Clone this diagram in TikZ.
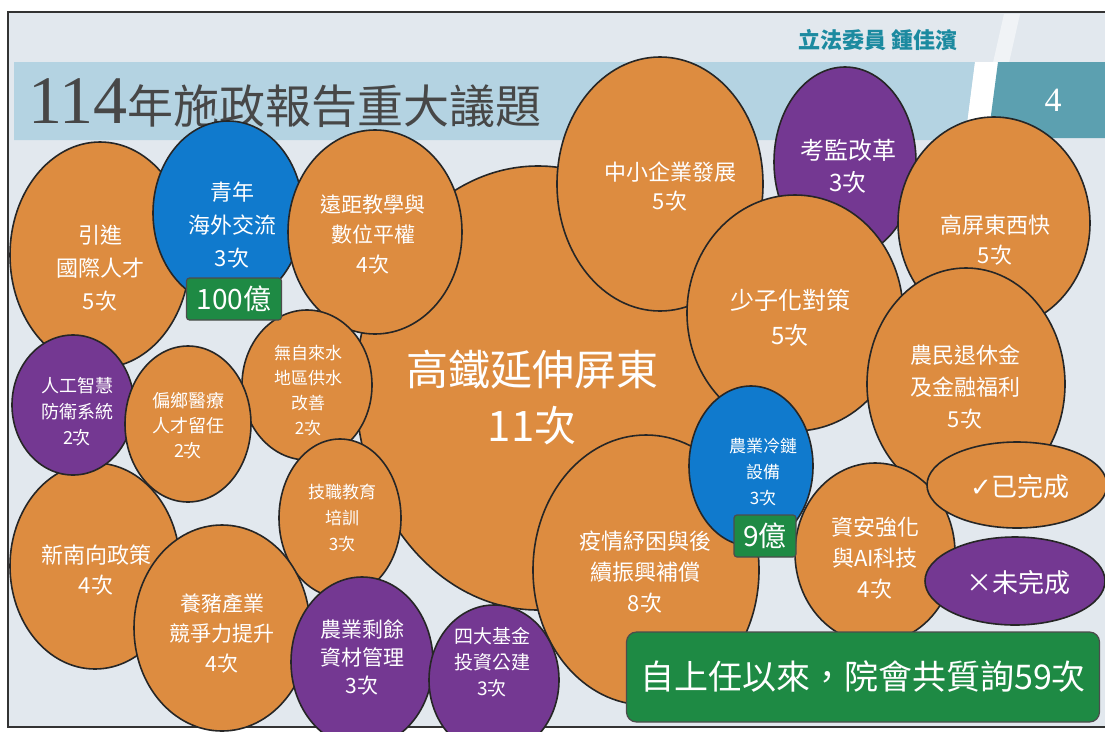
\documentclass[tikz,border=0pt]{standalone}
\usepackage{fontspec}
\setmainfont{Noto Sans CJK TC}
\newfontfamily\pagenumfont{Liberation Serif}
\newfontfamily\tickfont{DejaVu Sans}
\usetikzlibrary{shapes.geometric}

\definecolor{bgblue}{RGB}{226,232,238}
\definecolor{bandblue}{RGB}{180,211,226}
\definecolor{tealbox}{RGB}{92,160,176}
\definecolor{tealtext}{RGB}{28,138,160}
\definecolor{bubor}{RGB}{221,140,64}
\definecolor{bubbl}{RGB}{16,122,205}
\definecolor{bubpu}{RGB}{116,56,146}
\definecolor{moneygr}{RGB}{30,138,68}

\tikzset{
  bub/.style={ellipse, draw=black!85, line width=1.6pt, inner sep=0pt},
  orng/.style={bub, fill=bubor},
  blu/.style={bub, fill=bubbl},
  purp/.style={bub, fill=bubpu},
  lbl/.style={text=white, align=center, inner sep=0pt},
  money/.style={rectangle, rounded corners=3pt, fill=moneygr, draw=black!70,
    line width=1.2pt, text=white, inner sep=0pt}
}

\begin{document}
\begin{tikzpicture}[x=1pt,y=-1pt]

	\useasboundingbox (0,0) rectangle (1105,731);
	\fill[white] (0,0) rectangle (1105,731);
	\fill[bgblue] (8,12) rectangle (1120,727);
	\draw[line width=1.5pt, black!80] (8,12) rectangle (1120,727);

	% title band
	\fill[bandblue] (14,62) -- (975,62) -- (965,140) -- (14,140) -- cycle;
	\fill[white, opacity=0.5] (1004,14) -- (1020,14) -- (978,200) -- (962,200) -- cycle;
	\fill[white] (975,62) -- (998,62) -- (988,138) -- (965,140) -- cycle;
	\fill[tealbox] (998,62) -- (1105,62) -- (1105,138) -- (988,138) -- cycle;
	\node[anchor=west, inner sep=0pt, text=black!72, font=\fontsize{46}{60}\selectfont] (title) at (28,103)
		{{\pagenumfont\fontsize{68}{68}\selectfont 114}年施政報告重大議題};
	\node[text=tealtext, font=\bfseries\fontsize{22}{26}\selectfont] (mp) at (878,40) {立法委員\ 鍾佳濱};
	\node[text=white, font=\pagenumfont\fontsize{34}{40}\selectfont] (pg) at (1053,100) {4};

	% bubbles
	\node[orng, minimum width=364, minimum height=444] (hsr)   at (538,388) {};
	\node[orng, minimum width=206, minimum height=254] (sme)   at (660,184) {};
	\node[purp, minimum width=142, minimum height=190] (exam)  at (845,162) {};
	\node[orng, minimum width=192, minimum height=212] (kpg)   at (994,223) {};
	\node[orng, minimum width=216, minimum height=236] (birth) at (795,313) {};
	\node[orng, minimum width=198, minimum height=232] (farm)  at (966,384) {};
	\node[orng, minimum width=226, minimum height=270] (covid) at (646,570) {};
	\node[orng, minimum width=160, minimum height=180] (cyber) at (875,553) {};
	\node[blu,  minimum width=124, minimum height=160] (cold)  at (751,466) {};
	\node[orng, minimum width=180, minimum height=226] (intl)  at (100,255) {};
	\node[blu,  minimum width=150, minimum height=184] (youth) at (228,213) {};
	\node[orng, minimum width=174, minimum height=204] (remote) at (375,232) {};
	\node[orng, minimum width=130, minimum height=150] (water) at (307,385) {};
	\node[orng, minimum width=122, minimum height=158] (voc)   at (340,518) {};
	\node[orng, minimum width=170, minimum height=206] (south) at (95,566) {};
	\node[purp, minimum width=122, minimum height=140] (ai)    at (73,405) {};
	\node[orng, minimum width=126, minimum height=156] (rural) at (188,424) {};
	\node[orng, minimum width=176, minimum height=206] (pig)   at (222,628) {};
	\node[purp, minimum width=142, minimum height=170] (waste) at (362,662) {};
	\node[purp, minimum width=130, minimum height=150] (funds) at (494,680) {};
	\node[orng, minimum width=180, minimum height=86]  (done)  at (1017,485) {};
	\node[purp, minimum width=180, minimum height=88]  (undone) at (1015,581) {};

	% amounts and total
	\node[money, minimum width=95, minimum height=42, font=\fontsize{28}{30}\selectfont] (amt100) at (234,299) {100億};
	\node[money, minimum width=62, minimum height=42, font=\fontsize{28}{30}\selectfont] (amt9) at (765,536) {9億};
	\node[money, minimum width=473, minimum height=90, rounded corners=10pt, font=\fontsize{34}{40}\selectfont] (total) at (863,677) {自上任以來，院會共質詢59次};

	% bubble texts
	\node[lbl, font=\fontsize{42}{56}\selectfont] (hsr-t)   at (532,397) {高鐵延伸屏東\\11次};
	\node[lbl, font=\fontsize{22}{29}\selectfont] (sme-t)   at (670,187) {中小企業發展\\5次};
	\node[lbl, font=\fontsize{24}{32}\selectfont] (exam-t)  at (848,166) {考監改革\\3次};
	\node[lbl, font=\fontsize{22}{30}\selectfont] (kpg-t)   at (995,240) {高屏東西快\\5次};
	\node[lbl, font=\fontsize{24}{35}\selectfont] (birth-t) at (790,318) {少子化對策\\5次};
	\node[lbl, font=\fontsize{22}{32}\selectfont] (farm-t)  at (965,387) {農民退休金\\及金融福利\\5次};
	\node[lbl, font=\fontsize{22}{31}\selectfont] (covid-t) at (645,572) {疫情紓困與後\\續振興補償\\8次};
	\node[lbl, font=\fontsize{22}{31}\selectfont] (cyber-t) at (875,558) {資安強化\\與AI科技\\4次};
	\node[lbl, font=\fontsize{17}{26}\selectfont] (cold-t)  at (763,472) {農業冷鏈\\設備\\3次};
	\node[lbl, font=\fontsize{22}{33}\selectfont] (intl-t)  at (100,268) {引進\\國際人才\\5次};
	\node[lbl, font=\fontsize{22}{33}\selectfont] (youth-t) at (232,225) {青年\\海外交流\\3次};
	\node[lbl, font=\fontsize{21}{30}\selectfont] (remote-t) at (373,235) {遠距教學與\\數位平權\\4次};
	\node[lbl, font=\fontsize{17}{25}\selectfont] (water-t) at (308,390) {無自來水\\地區供水\\改善\\2次};
	\node[lbl, font=\fontsize{17}{26}\selectfont] (voc-t)   at (342,518) {技職教育\\培訓\\3次};
	\node[lbl, font=\fontsize{22}{30}\selectfont] (south-t) at (96,570) {新南向政策\\4次};
	\node[lbl, font=\fontsize{18}{26}\selectfont] (ai-t)    at (77,412) {人工智慧\\防衛系統\\2次};
	\node[lbl, font=\fontsize{18}{25}\selectfont] (rural-t) at (188,426) {偏鄉醫療\\人才留任\\2次};
	\node[lbl, font=\fontsize{21}{30}\selectfont] (pig-t)   at (222,633) {養豬產業\\競爭力提升\\4次};
	\node[lbl, font=\fontsize{21}{28}\selectfont] (waste-t) at (362,657) {農業剩餘\\資材管理\\3次};
	\node[lbl, font=\fontsize{19}{26}\selectfont] (funds-t) at (492,662) {四大基金\\投資公建\\3次};
	\node[lbl, font=\fontsize{26}{30}\selectfont] (done-t)  at (1020,487) {{\tickfont ✓}已完成};
	\node[lbl, font=\fontsize{26}{30}\selectfont] (undone-t) at (1018,583) {×未完成};

\end{tikzpicture}
\end{document}
